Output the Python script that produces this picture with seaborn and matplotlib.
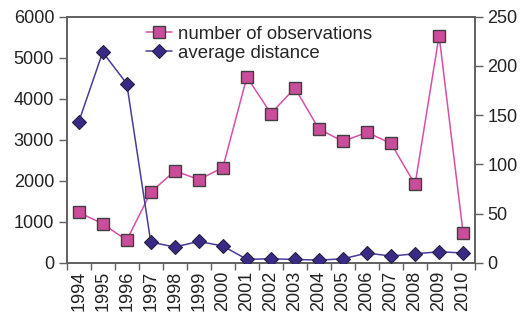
import numpy as np
import pandas as pd
import matplotlib
matplotlib.use("Agg")
import matplotlib.pyplot as plt
import seaborn as sns

years = ["1994", "1995", "1996", "1997", "1998", "1999", "2000", "2001", "2002",
         "2003", "2004", "2005", "2006", "2007", "2008", "2009", "2010"]
observations = [1230, 950, 550, 1720, 2240, 2030, 2320, 4530, 3640,
                4260, 3260, 2960, 3180, 2910, 1910, 5540, 730]
avg_distance = [143, 214, 182, 21, 16, 21.7, 17, 3.5, 4,
                3.4, 2.7, 4, 9.9, 6.8, 9.1, 11.2, 9.9]
left_ticks = [0, 1000, 2000, 3000, 4000, 5000, 6000]
right_ticks = [0, 50, 100, 150, 200, 250]

sns.set_style("white")
plt.rcParams['font.family'] = ['Liberation Sans', 'DejaVu Sans']

df = pd.DataFrame({"pos": np.arange(len(years)), "year": years,
                   "obs": observations, "dist": avg_distance})

fig = plt.figure(figsize=(5.25, 3.22), dpi=100)
ax = fig.add_axes([0.127, 0.184, 0.778, 0.764])
ax2 = ax.twinx()

pink = "#d94fa6"
pink_fill = "#cc4c9c"
blue = "#4a3a9a"
blue_fill = "#3b2a85"
edge = "#404040"
fs = 13

sns.lineplot(data=df, x="pos", y="obs", ax=ax, color=pink, lw=1.1,
             marker="s", markersize=8, markerfacecolor=pink_fill,
             markeredgecolor=edge, markeredgewidth=1.0, zorder=3,
             label="number of observations", legend=False)
sns.lineplot(data=df, x="pos", y="dist", ax=ax2, color=blue, lw=1.1,
             marker="D", markersize=7.5, markerfacecolor=blue_fill,
             markeredgecolor="#222244", markeredgewidth=0.8, zorder=3,
             label="average distance", legend=False)

n = len(years)
ax.set_xlim(-0.5, n - 0.5)
ax.set_ylim(0, 6000)
ax2.set_ylim(0, 250)
ax.set_yticks(left_ticks)
ax.set_yticklabels([str(t) for t in left_ticks])
ax2.set_yticks(right_ticks)
ax2.set_yticklabels([str(t) for t in right_ticks])
ax.set_xticks(np.arange(n))
ax.set_xticklabels(years, rotation=90)
ax.set_xticks(np.arange(n + 1) - 0.5, minor=True)
ax.set_xlabel("")
ax.set_ylabel("")
ax2.set_ylabel("")

spine_col = "#606060"
for a in (ax, ax2):
    for s in a.spines.values():
        s.set_color(spine_col)
        s.set_linewidth(1.2)
ax.tick_params(axis="x", which="major", length=0, labelsize=fs, pad=6, colors="#222222")
ax.tick_params(axis="x", which="minor", length=5, width=1, color=spine_col, direction="out", bottom=True)
ax.tick_params(axis="y", length=6, width=1, color=spine_col, direction="out", left=True,
               labelsize=fs, labelcolor="#222222", pad=3)
ax2.tick_params(axis="y", length=6, width=1, color=spine_col, direction="out", right=True,
                labelsize=fs, labelcolor="#222222", pad=3)
ax.grid(False)
ax2.grid(False)

h1, l1 = ax.get_legend_handles_labels()
h2, l2 = ax2.get_legend_handles_labels()
leg = ax2.legend(h1 + h2, l1 + l2, loc="upper left", bbox_to_anchor=(0.194, 0.964),
                 frameon=False, fontsize=13.4, handlelength=1.4, handletextpad=0.3,
                 labelspacing=0.1, borderaxespad=0, borderpad=0)

fig.savefig("out.png", dpi=100)
